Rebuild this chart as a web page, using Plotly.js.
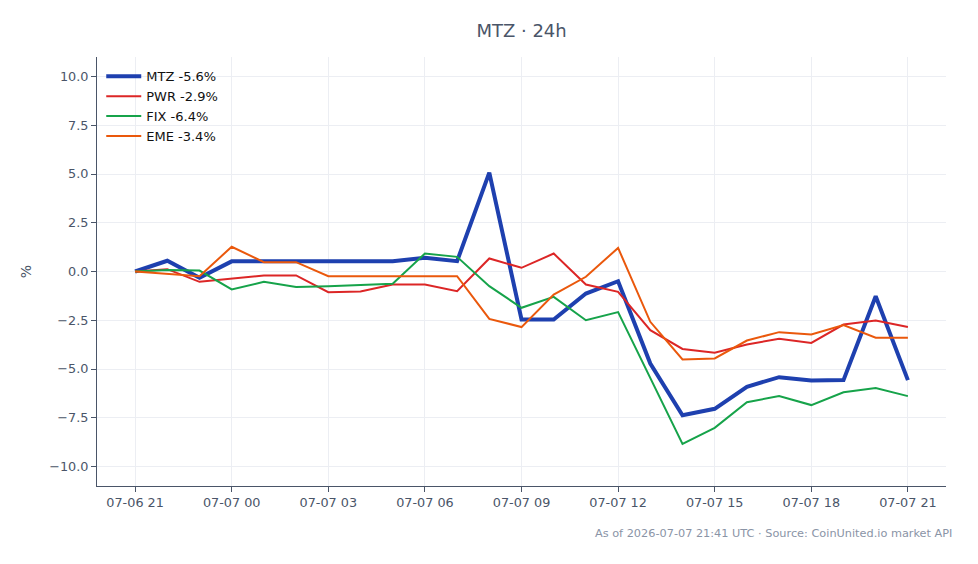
<!DOCTYPE html>
<html>
<head>
<meta charset="utf-8">
<script src="https://cdn.plot.ly/plotly-3.0.1.min.js"></script>
<style>
  html, body { margin: 0; padding: 0; background: #ffffff; }
  #chart { width: 978px; height: 564px; }
</style>
</head>
<body>
<div id="chart"></div>
<script>
// Hourly timestamps over the 24h window
const hours = [
  "2026-07-06 21:00", "2026-07-06 22:00", "2026-07-06 23:00", "2026-07-07 00:00",
  "2026-07-07 01:00", "2026-07-07 02:00", "2026-07-07 03:00", "2026-07-07 04:00",
  "2026-07-07 05:00", "2026-07-07 06:00", "2026-07-07 07:00", "2026-07-07 08:00",
  "2026-07-07 09:00", "2026-07-07 10:00", "2026-07-07 11:00", "2026-07-07 12:00",
  "2026-07-07 13:00", "2026-07-07 14:00", "2026-07-07 15:00", "2026-07-07 16:00",
  "2026-07-07 17:00", "2026-07-07 18:00", "2026-07-07 19:00", "2026-07-07 20:00",
  "2026-07-07 21:00"
];

// Percent change since the start of the window
const mtz = [0, 0.55, -0.32, 0.52, 0.52, 0.52, 0.52, 0.52, 0.52, 0.71, 0.53, 5.07,
  -2.46, -2.46, -1.13, -0.5, -4.72, -7.37, -7.04, -5.91, -5.42, -5.59, -5.57, -1.27, -5.57];
const pwr = [0, 0.12, -0.53, -0.37, -0.2, -0.2, -1.06, -1.03, -0.67, -0.67, -1.01, 0.67,
  0.19, 0.92, -0.67, -1.04, -3.01, -3.97, -4.17, -3.74, -3.45, -3.66, -2.72, -2.51, -2.85];
const fix = [0, 0.08, 0.05, -0.92, -0.53, -0.79, -0.75, -0.68, -0.63, 0.92, 0.75, -0.75,
  -1.86, -1.3, -2.5, -2.08, -5.45, -8.84, -8.02, -6.7, -6.39, -6.85, -6.19, -5.97, -6.39];
const eme = [0, -0.12, -0.24, 1.27, 0.48, 0.48, -0.24, -0.24, -0.24, -0.24, -0.24, -2.43,
  -2.85, -1.18, -0.27, 1.21, -2.58, -4.51, -4.46, -3.54, -3.11, -3.23, -2.75, -3.4, -3.4];

const names = ["MTZ -5.6%", "PWR -2.9%", "FIX -6.4%", "EME -3.4%"];
const series = [mtz, pwr, fix, eme];
const colors = ["#1e40af", "#dc2626", "#16a34a", "#ea580c"];
const widths = [4, 2, 2, 2];

const traces = series.map((ys, i) => ({
  x: hours,
  y: ys,
  name: names[i],
  type: "scatter",
  mode: "lines",
  line: { color: colors[i], width: widths[i] }
}));

const axisColor = "#4a5568";
const font = "DejaVu Sans, sans-serif";

const layout = {
  width: 978,
  height: 564,
  margin: { l: 97, r: 32, t: 57, b: 78 },
  paper_bgcolor: "#ffffff",
  plot_bgcolor: "#ffffff",
  font: { family: font, color: axisColor, size: 13 },
  title: {
    text: "MTZ · 24h",
    x: 0.5333, xanchor: "center",
    y: 0.945, yanchor: "middle",
    font: { family: font, size: 18, color: axisColor }
  },
  showlegend: true,
  legend: {
    x: 0.005, y: 0.99, xanchor: "left", yanchor: "top",
    bgcolor: "rgba(0,0,0,0)",
    font: { family: font, size: 13, color: "#111111" },
    itemwidth: 35,
    tracegroupgap: 0
  },
  xaxis: {
    type: "date",
    range: ["2026-07-06 19:49", "2026-07-07 22:11"],
    tickformat: "%m-%d %H",
    dtick: 10800000,
    tick0: "2026-07-06 21:00",
    showgrid: true,
    gridcolor: "#eceef3",
    showline: true,
    linecolor: axisColor,
    linewidth: 1,
    ticks: "outside",
    ticklen: 5,
    tickcolor: axisColor,
    tickfont: { family: font, size: 12.8, color: axisColor },
    zeroline: false
  },
  yaxis: {
    range: [-11, 11],
    dtick: 2.5,
    tickformat: ".1f",
    showgrid: true,
    gridcolor: "#eceef3",
    showline: true,
    linecolor: axisColor,
    linewidth: 1,
    ticks: "outside",
    ticklen: 5,
    tickcolor: axisColor,
    tickfont: { family: font, size: 12.8, color: axisColor },
    zeroline: false,
    title: { text: "%", font: { family: font, size: 14, color: axisColor }, standoff: 14 }
  },
  shapes: [{
    type: "line", xref: "paper", x0: 0, x1: 1, yref: "y", y0: 0, y1: 0,
    line: { color: "#8a9ab5", width: 1, dash: "dash" },
    layer: "below"
  }],
  annotations: [{
    text: "As of 2026-07-07 21:41 UTC · Source: CoinUnited.io market API",
    xref: "paper", yref: "paper",
    x: 1.0095, y: -0.11, xanchor: "right", yanchor: "middle",
    showarrow: false,
    font: { family: font, size: 11.3, color: "#8a94a6" }
  }]
};

Plotly.newPlot("chart", traces, layout, { displayModeBar: false, staticPlot: true });
</script>
</body>
</html>
